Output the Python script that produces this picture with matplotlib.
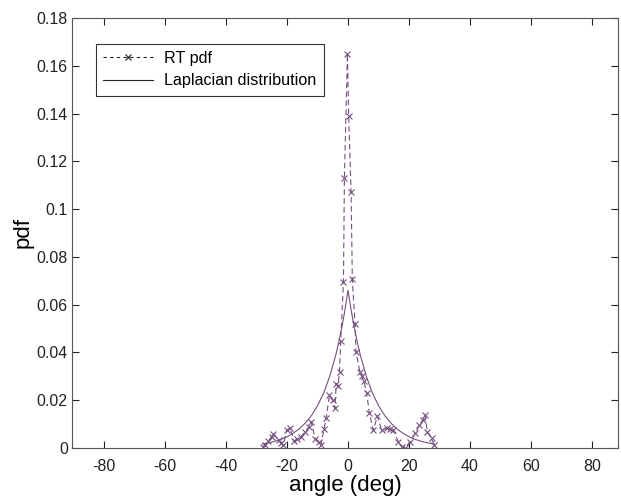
import matplotlib
matplotlib.use("Agg")
import matplotlib.pyplot as plt
from matplotlib.lines import Line2D

plt.rcParams['font.family'] = ['Liberation Sans', 'DejaVu Sans']
plt.rcParams['axes.unicode_minus'] = False

# RT pdf samples (angle in deg, pdf)
rt_angle = [-28.0, -27.2, -26.1, -25.0, -24.5, -22.8, -22.0, -21.2, -20.1, -19.0,
            -17.7, -16.6, -15.4, -14.1, -12.7, -12.0, -10.8, -9.5, -8.9, -7.9,
            -7.2, -6.1, -5.0, -4.3, -3.9, -3.3, -2.8, -2.4, -1.5, -1.2,
            -0.2, 0.2, 1.0, 1.4, 2.3, 2.6, 3.9, 4.5, 5.2, 6.1,
            7.0, 8.3, 9.6, 11.0, 12.7, 13.8, 14.9, 16.5, 17.6, 18.7,
            20.3, 22.0, 23.4, 24.5, 25.2, 26.0, 27.4, 28.3]
rt_pdf = [0.0005, 0.0013, 0.0030, 0.0047, 0.0059, 0.0033, 0.0020, 0.0013, 0.0075, 0.0082,
          0.0030, 0.0036, 0.0047, 0.0068, 0.0090, 0.0110, 0.0038, 0.0026, 0.0013, 0.0078,
          0.0124, 0.0220, 0.0200, 0.0166, 0.0270, 0.0260, 0.0320, 0.0450, 0.0696, 0.1130,
          0.1650, 0.1390, 0.1070, 0.0707, 0.0520, 0.0400, 0.0320, 0.0300, 0.0280, 0.0229,
          0.0145, 0.0075, 0.0134, 0.0075, 0.0082, 0.0078, 0.0075, 0.0026, 0.0005, 0.0000,
          0.0026, 0.0061, 0.0096, 0.0117, 0.0138, 0.0068, 0.0040, 0.0013]

# Laplacian distribution curve
lap_angle = [-28, -26, -24, -22, -20, -18, -16, -14, -12, -10, -8, -6, -4, -3, -2, -1, 0,
             1, 2, 3, 4, 6, 8, 10, 12, 14, 16, 18, 20, 22, 24, 26, 28]
lap_pdf = [0.0017, 0.0022, 0.0028, 0.0036, 0.0047, 0.0062, 0.0080, 0.0105, 0.0136, 0.0177,
           0.0230, 0.0300, 0.0390, 0.0445, 0.0507, 0.0579, 0.0660,
           0.0579, 0.0507, 0.0445, 0.0390, 0.0300, 0.0230, 0.0177, 0.0136, 0.0105, 0.0080,
           0.0062, 0.0047, 0.0036, 0.0028, 0.0022, 0.0017]

xticks = [-80, -60, -40, -20, 0, 20, 40, 60, 80]
yticks = [0, 0.02, 0.04, 0.06, 0.08, 0.1, 0.12, 0.14, 0.16, 0.18]
ytick_labels = ['0', '0.02', '0.04', '0.06', '0.08', '0.1', '0.12', '0.14', '0.16', '0.18']

color = '#74507e'

fig = plt.figure(figsize=(6.21, 5.00), dpi=100)
ax = fig.add_axes([72/621, 52/500, 546/621, 430/500])

ax.plot(rt_angle, rt_pdf, linestyle=(0, (5, 3)), color=color, linewidth=0.8,
        marker='x', markersize=5, markeredgewidth=0.8)
ax.plot(lap_angle, lap_pdf, linestyle='-', color=color, linewidth=0.8)

ax.set_xlim(-90.5, 88.5)
ax.set_ylim(0, 0.18)
ax.set_xticks(xticks)
ax.set_yticks(yticks)
ax.set_yticklabels(ytick_labels)
ax.tick_params(direction='in', top=True, right=True, length=5, width=0.8,
               labelsize=11.5, colors='#222222')
ax.tick_params(axis='x', pad=8)
ax.tick_params(axis='y', pad=3)
for s in ax.spines.values():
    s.set_color('#555555')
    s.set_linewidth(0.8)

ax.set_xlabel('angle (deg)', fontsize=16, labelpad=1)
ax.set_ylabel('pdf', fontsize=16, labelpad=2)

handles = [Line2D([], [], linestyle=(0, (3, 3)), color='#222222', linewidth=0.8,
                  marker='x', markersize=4, markeredgewidth=0.8),
           Line2D([], [], linestyle='-', color='#222222', linewidth=0.8)]
leg = ax.legend(handles, ['RT pdf', 'Laplacian distribution'], loc='upper left',
                bbox_to_anchor=(0.044, 0.94), fancybox=False, framealpha=1,
                edgecolor='#333333', fontsize=11.6, handlelength=3.1,
                borderpad=0.45, labelspacing=0.45, handletextpad=0.7, borderaxespad=0)
leg.get_frame().set_linewidth(0.8)

fig.savefig('out.png', dpi=100)
